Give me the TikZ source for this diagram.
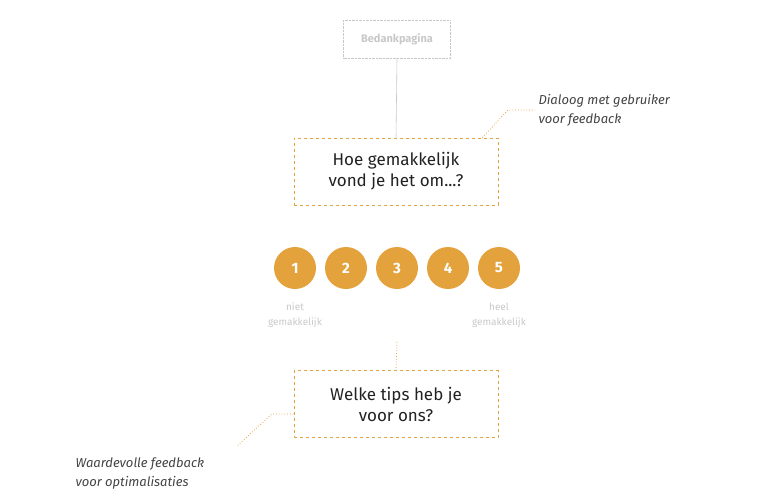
\documentclass[tikz,border=0pt]{standalone}
\usepackage{fontspec}
\setmainfont{Fira Sans}
\usetikzlibrary{positioning}
\definecolor{gold}{HTML}{E3A23B}
\definecolor{lightgray}{HTML}{C8C8C8}
\definecolor{ink}{HTML}{222222}
\tikzset{
  question/.style={draw=gold, dashed, line width=0.9pt, minimum width=204pt, minimum height=67pt, align=center, text=ink, font=\fontsize{17}{21}\selectfont},
  score/.style={circle, fill=gold, minimum size=42pt, inner sep=0pt, text=white, font=\fontsize{15}{18}\selectfont\bfseries},
  hint/.style={text=lightgray, align=center, font=\fontsize{10}{15}\selectfont},
  note/.style={align=left, anchor=west, text=ink!85, font=\fontsize{13}{19}\selectfont\itshape},
  pointer/.style={gold, dotted, line width=0.8pt}
}
\begin{document}
\begin{tikzpicture}[x=1pt,y=-1pt]
  \useasboundingbox (0,0) rectangle (770,500);
  % top page
  \node[draw=lightgray, densely dotted, minimum width=107pt, minimum height=38pt, text=lightgray, font=\fontsize{11}{13}\selectfont\bfseries] (thanks) at (397,39) {Bedankpagina};
  \node[question] (q1) at (396,171.5) {Hoe gemakkelijk\\vond je het om...?};
  \draw[lightgray, line width=0.6pt] (thanks.south) -- (q1.north);
  % rating
  \foreach \i in {1,...,5}
    \node[score] (s\i) at (244+51*\i,268) {\i};
  \node[hint, below=10pt of s1] (low) {niet\\gemakkelijk};
  \node[hint, below=10pt of s5] (high) {heel\\gemakkelijk};
  \node[question] (q2) at (396,404) {Welke tips heb je\\voor ons?};
  \coordinate (gap) at (397,342);
  \draw[pointer] (gap) -- (q2.north);
  % notes
  \node[note] (n1) at (535,110) {Dialoog met gebruiker\\voor feedback};
  \draw[pointer] ([xshift=-16pt]q1.north east) -- (508,110) -- (n1.west);
  \node[note] (n2) at (72,474) {Waardevolle feedback\\voor optimalisaties};
  \draw[pointer] (q2.west |- 0,414) -- (272,414) -- (237,446);
\end{tikzpicture}
\end{document}
